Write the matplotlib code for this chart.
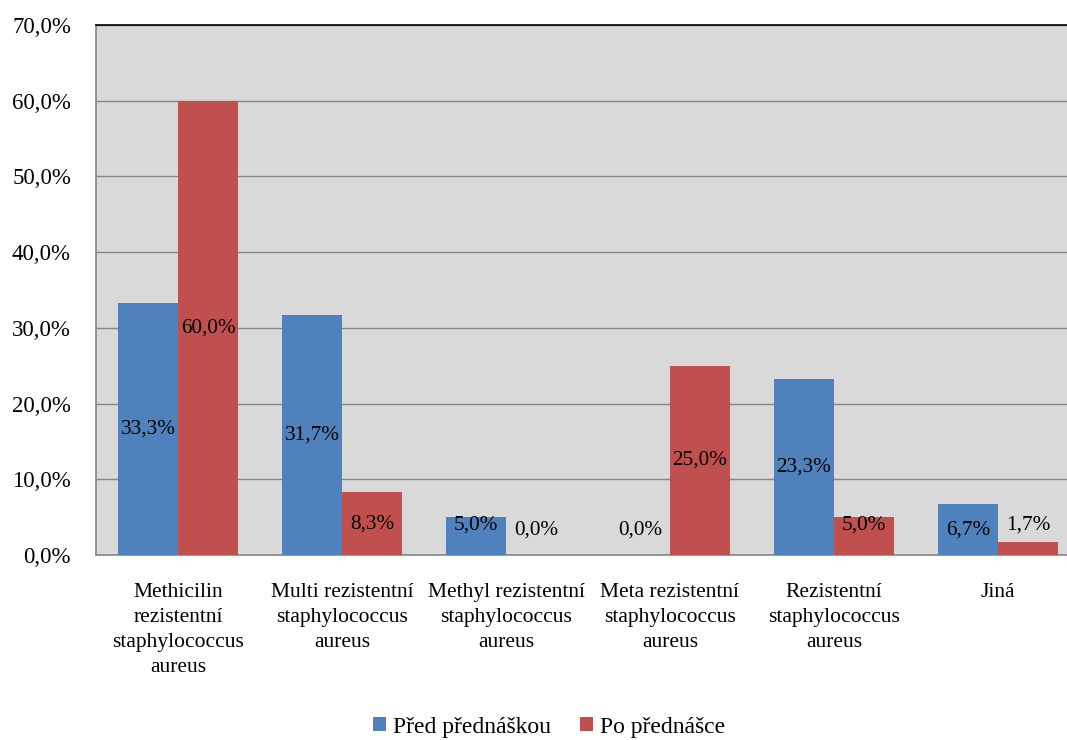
import matplotlib
matplotlib.use("Agg")
import matplotlib.pyplot as plt
import numpy as np

categories = [
    "Methicilin\nrezistentní\nstaphylococcus\naureus",
    "Multi rezistentní\nstaphylococcus\naureus",
    "Methyl rezistentní\nstaphylococcus\naureus",
    "Meta rezistentní\nstaphylococcus\naureus",
    "Rezistentní\nstaphylococcus\naureus",
    "Jiná",
]
pred = [33.3, 31.7, 5.0, 0.0, 23.3, 6.7]
po = [60.0, 8.3, 0.0, 25.0, 5.0, 1.7]
series_names = ["Před přednáškou", "Po přednášce"]
yticks = [0, 10, 20, 30, 40, 50, 60, 70]

plt.rcParams['font.family'] = ['Liberation Serif', 'DejaVu Serif']

fig = plt.figure(figsize=(10.67, 7.40), dpi=100)
ax = fig.add_axes([96/1067, 1-555/740, 984/1067, 530/740])
ax.set_facecolor('#D9D9D9')

x = np.arange(len(categories))
w = 0.366
b1 = ax.bar(x - w/2, pred, w, color='#4F81BD', label=series_names[0], zorder=3)
b2 = ax.bar(x + w/2, po, w, color='#C0504D', label=series_names[1], zorder=3)

def fmt(v):
    return f"{v:.1f}%".replace('.', ',')

for xs, vals in ((x - w/2, pred), (x + w/2, po)):
    for xi, v in zip(xs, vals):
        y = v/2 if v/2 >= 3.3 else (3.3 if v < 1 else 4.0)
        ax.text(xi, y, fmt(v), ha='center', va='center', fontsize=15.3, color='black', zorder=4)

ax.set_xlim(-0.5, len(categories)-0.5)
ax.set_ylim(0, 70)
ax.set_yticks(yticks)
ax.set_yticklabels([fmt(t) for t in yticks], fontsize=16.5)
ax.set_xticks(x)
ax.set_xticklabels(categories, fontsize=15.5, linespacing=1.43)
ax.tick_params(axis='y', length=0, pad=18)
ax.tick_params(axis='x', length=0, pad=20)
ax.grid(axis='y', color='#868686', linewidth=1, zorder=1)
ax.set_axisbelow(True)
for s in ('left', 'bottom'):
    ax.spines[s].set_color('#868686')
    ax.spines[s].set_linewidth(1.2)
ax.spines['top'].set_color('black')
ax.spines['top'].set_linewidth(1.2)
ax.spines['right'].set_visible(False)

leg = fig.legend(handles=[b1, b2], labels=series_names, loc='center',
                 bbox_to_anchor=(549/1067, 1-727/740), ncol=2, frameon=False,
                 fontsize=17, handlelength=0.55, handleheight=0.55,
                 handletextpad=0.3, columnspacing=1.2)

fig.savefig('out.png', dpi=100)
